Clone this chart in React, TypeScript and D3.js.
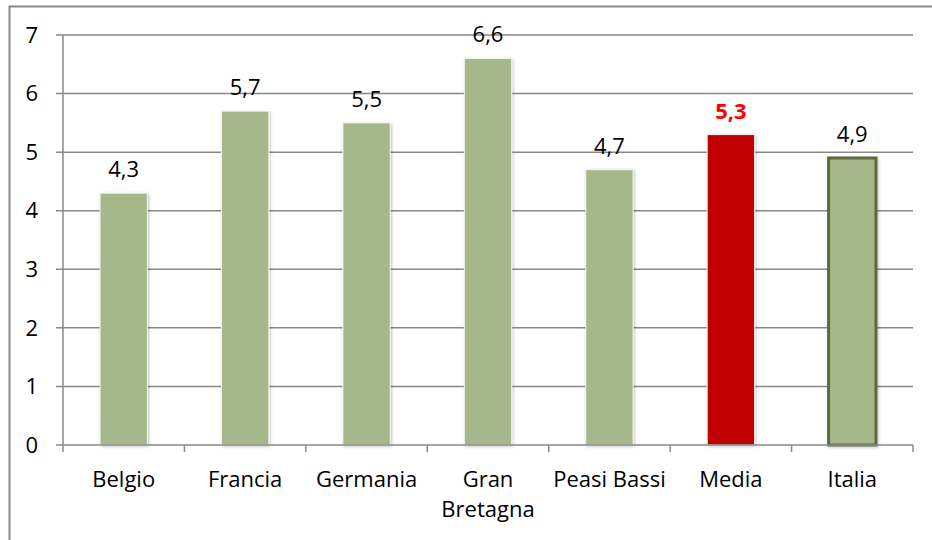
import React, { useEffect, useRef } from 'react';
import * as d3 from 'd3';

const categories = ['Belgio', 'Francia', 'Germania', 'Gran Bretagna', 'Peasi Bassi', 'Media', 'Italia'];
const values = [4.3, 5.7, 5.5, 6.6, 4.7, 5.3, 4.9];
const yTicks = [0, 1, 2, 3, 4, 5, 6, 7];

const GREEN = '#a6b88a';
const RED = '#c00000';

const App: React.FC = () => {
  const svgRef = useRef<SVGSVGElement>(null);

  useEffect(() => {
    if (!svgRef.current) return;
    const svg = d3.select(svgRef.current);
    svg.selectAll('*').remove();

    const margin = { top: 35, right: 19, bottom: 95, left: 63 };
    const width = 932 - margin.left - margin.right;
    const height = 540 - margin.top - margin.bottom;
    const font = "'Open Sans', sans-serif";

    // outer chart border
    svg.append('rect')
      .attr('x', 9.5).attr('y', 6.5)
      .attr('width', 940).attr('height', 560)
      .attr('fill', 'white')
      .attr('stroke', '#878787').attr('stroke-width', 2);

    const defs = svg.append('defs');
    const shadow = defs.append('filter').attr('id', 'shadow')
      .attr('x', '-20%').attr('y', '-10%').attr('width', '140%').attr('height', '120%');
    shadow.append('feDropShadow')
      .attr('dx', 1).attr('dy', 1).attr('stdDeviation', 1.5)
      .attr('flood-color', '#000').attr('flood-opacity', 0.25);

    const g = svg.append('g').attr('transform', `translate(${margin.left},${margin.top})`);

    const x = d3.scaleBand().domain(categories).range([0, width]).paddingInner(0.61).paddingOuter(0.305);
    const xc = d3.scaleBand().domain(categories).range([0, width]);
    const y = d3.scaleLinear().domain([0, 7]).range([height, 0]);

    // grid lines
    g.append('g')
      .selectAll('line')
      .data(yTicks.filter(t => t > 0))
      .enter().append('line')
      .attr('x1', -7).attr('x2', width)
      .attr('y1', d => y(d)).attr('y2', d => y(d))
      .attr('stroke', '#888').attr('stroke-width', 1.5);

    // y axis
    g.append('line')
      .attr('x1', 0).attr('x2', 0).attr('y1', 0).attr('y2', height)
      .attr('stroke', '#888').attr('stroke-width', 1.5);

    g.append('g')
      .selectAll('text')
      .data(yTicks)
      .enter().append('text')
      .attr('x', -25).attr('y', d => y(d))
      .attr('dy', '0.35em')
      .attr('text-anchor', 'end')
      .style('font-family', font).style('font-size', '22px').style('fill', '#000')
      .text(d => d);

    // bars
    g.selectAll('.bar')
      .data(categories)
      .enter().append('rect')
      .attr('class', 'bar')
      .attr('x', d => x(d)!)
      .attr('width', x.bandwidth())
      .attr('y', (d, i) => y(values[i]))
      .attr('height', (d, i) => height - y(values[i]))
      .attr('fill', d => d === 'Media' ? RED : GREEN)
      .attr('stroke', d => d === 'Italia' ? '#5b6a3d' : '#f4f4f4')
      .attr('stroke-width', d => d === 'Italia' ? 3 : 1)
      .attr('filter', 'url(#shadow)');

    // x axis
    g.append('line')
      .attr('x1', -7).attr('x2', width).attr('y1', height).attr('y2', height)
      .attr('stroke', '#888').attr('stroke-width', 1.5);

    g.append('g')
      .selectAll('line')
      .data([...categories.map(c => xc(c)!), width])
      .enter().append('line')
      .attr('x1', d => d).attr('x2', d => d)
      .attr('y1', height).attr('y2', height + 7)
      .attr('stroke', '#888').attr('stroke-width', 1.5);

    // category labels
    const catLabels = g.append('g')
      .selectAll('text')
      .data(categories)
      .enter().append('text')
      .attr('x', d => xc(d)! + xc.bandwidth() / 2)
      .attr('y', height + 42)
      .attr('text-anchor', 'middle')
      .style('font-family', font).style('font-size', '22px').style('fill', '#000');

    catLabels.each(function (d) {
      const words = d === 'Gran Bretagna' ? ['Gran', 'Bretagna'] : [d];
      const t = d3.select(this);
      words.forEach((w, i) => {
        t.append('tspan')
          .attr('x', xc(d)! + xc.bandwidth() / 2)
          .attr('dy', i === 0 ? 0 : 30)
          .text(w);
      });
    });

    // value labels
    g.append('g')
      .selectAll('text')
      .data(categories)
      .enter().append('text')
      .attr('x', d => x(d)! + x.bandwidth() / 2)
      .attr('y', (d, i) => y(values[i]) - 16)
      .attr('text-anchor', 'middle')
      .style('font-family', font).style('font-size', '22px')
      .style('font-weight', d => d === 'Media' ? 'bold' : 'normal')
      .style('fill', d => d === 'Media' ? '#ff0000' : '#000')
      .text((d, i) => values[i].toFixed(1).replace('.', ','));
  }, []);

  return (
    <svg ref={svgRef} width={932} height={540}
      style={{ position: 'absolute', left: 0, top: 0, display: 'block', background: 'white' }} />
  );
};

export default App;
